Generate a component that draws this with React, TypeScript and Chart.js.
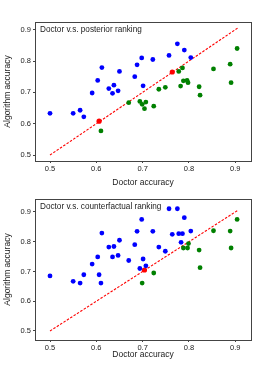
import React, { useEffect, useRef } from "react";
import { Chart, registerables } from "chart.js";

Chart.register(...registerables);

const tickValues = [0.5, 0.6, 0.7, 0.8, 0.9];

// Top panel: Doctor v.s. posterior ranking
const topBlueX = [0.5, 0.55, 0.565, 0.573, 0.591, 0.603, 0.612, 0.627, 0.635, 0.638, 0.647, 0.65, 0.683, 0.688, 0.698, 0.701, 0.722, 0.757, 0.775, 0.79, 0.804];
const topBlueY = [0.633, 0.633, 0.643, 0.622, 0.698, 0.738, 0.779, 0.712, 0.697, 0.723, 0.705, 0.767, 0.75, 0.788, 0.81, 0.721, 0.805, 0.818, 0.855, 0.835, 0.811];
const topGreenX = [0.61, 0.67, 0.694, 0.699, 0.704, 0.707, 0.724, 0.735, 0.749, 0.778, 0.786, 0.782, 0.788, 0.796, 0.798, 0.822, 0.824, 0.853, 0.889, 0.891, 0.904];
const topGreenY = [0.577, 0.667, 0.671, 0.662, 0.648, 0.669, 0.656, 0.71, 0.716, 0.767, 0.778, 0.72, 0.737, 0.738, 0.731, 0.718, 0.691, 0.775, 0.79, 0.731, 0.84];
const topRedX = [0.606, 0.764];
const topRedY = [0.608, 0.765];

// Bottom panel: Doctor v.s. counterfactual ranking
const botBlueX = [0.5, 0.55, 0.565, 0.573, 0.591, 0.603, 0.612, 0.606, 0.61, 0.627, 0.635, 0.638, 0.647, 0.65, 0.67, 0.683, 0.688, 0.698, 0.694, 0.701, 0.707, 0.722, 0.735, 0.749, 0.757, 0.764, 0.775, 0.778, 0.783, 0.786, 0.79, 0.804];
const botBlueY = [0.685, 0.667, 0.661, 0.689, 0.725, 0.749, 0.829, 0.689, 0.661, 0.782, 0.749, 0.784, 0.754, 0.805, 0.737, 0.79, 0.835, 0.875, 0.71, 0.742, 0.719, 0.835, 0.782, 0.768, 0.911, 0.825, 0.911, 0.827, 0.798, 0.827, 0.881, 0.836];
const botGreenX = [0.699, 0.724, 0.788, 0.797, 0.799, 0.822, 0.824, 0.853, 0.889, 0.891, 0.904];
const botGreenY = [0.661, 0.695, 0.779, 0.779, 0.794, 0.772, 0.713, 0.837, 0.836, 0.779, 0.875];
const botRedX = [0.704];
const botRedY = [0.705];

const diagX = [0.5, 0.905];

const FONT = "'Liberation Sans', Arial, sans-serif";
const FRAME = "#444";

const pts = (xs: number[], ys: number[]) => xs.map((x, i) => ({ x, y: ys[i] }));

type PanelProps = {
  title: string;
  blue: { x: number; y: number }[];
  green: { x: number; y: number }[];
  red: { x: number; y: number }[];
  yMin: number;
  yMax: number;
  top: number;
  height: number;
  padTop: number;
  padBottom: number;
  xAxisH: number;
};

function Panel(p: PanelProps) {
  const ref = useRef<HTMLCanvasElement | null>(null);
  useEffect(() => {
    if (!ref.current) return;
    const framePlugin = {
      id: "frame",
      afterDraw(chart: any) {
        const { ctx, chartArea } = chart;
        ctx.save();
        ctx.strokeStyle = FRAME;
        ctx.lineWidth = 1;
        ctx.strokeRect(
          Math.round(chartArea.left) + 0.5,
          Math.round(chartArea.top) + 0.5,
          Math.round(chartArea.right - chartArea.left),
          Math.round(chartArea.bottom - chartArea.top)
        );
        ctx.fillStyle = "#222";
        ctx.font = `8.2px ${FONT}`;
        ctx.textBaseline = "middle";
        ctx.textAlign = "left";
        ctx.fillText(p.title, chartArea.left + 5, chartArea.top + 8);
        ctx.restore();
      },
    };
    const chart = new Chart(ref.current, {
      type: "scatter",
      data: {
        datasets: [
          {
            data: p.blue,
            backgroundColor: "#0000ff",
            borderWidth: 0,
            pointRadius: 2.4,
          },
          {
            data: p.green,
            backgroundColor: "#008000",
            borderWidth: 0,
            pointRadius: 2.4,
          },
          {
            type: "line",
            data: pts(diagX, diagX),
            borderColor: "#ff0000",
            borderWidth: 1.1,
            borderDash: [2.5, 1.5],
            pointRadius: 0,
            showLine: true,
            fill: false,
          } as any,
          {
            data: p.red,
            backgroundColor: "#ff0000",
            borderWidth: 0,
            pointRadius: 2.6,
          },
        ],
      },
      options: {
        animation: false,
        responsive: false,
        maintainAspectRatio: false,
        layout: { padding: { left: 0, right: 28, top: p.padTop, bottom: p.padBottom } },
        plugins: { legend: { display: false }, tooltip: { enabled: false } },
        scales: {
          x: {
            type: "linear",
            min: 0.4676,
            max: 0.934,
            afterBuildTicks: (s: any) => {
              s.ticks = tickValues.map((v) => ({ value: v }));
            },
            afterFit: (s: any) => {
              s.height = p.xAxisH;
            },
            grid: { drawOnChartArea: false, drawTicks: true, tickLength: 2, color: FRAME },
            border: { display: false },
            ticks: {
              padding: 1,
              color: "#222",
              font: { family: FONT, size: 7.5 },
              callback: (v: any) => Number(v).toFixed(1),
            },
            title: {
              display: true,
              text: "Doctor accuracy",
              color: "#222",
              font: { family: FONT, size: 8.5 },
              padding: { top: 0, bottom: 0 },
            },
          },
          y: {
            type: "linear",
            min: p.yMin,
            max: p.yMax,
            afterBuildTicks: (s: any) => {
              s.ticks = tickValues.map((v) => ({ value: v }));
            },
            afterFit: (s: any) => {
              s.width = 35;
            },
            grid: { drawOnChartArea: false, drawTicks: true, tickLength: 2, color: FRAME },
            border: { display: false },
            ticks: {
              padding: 2,
              color: "#222",
              font: { family: FONT, size: 7.5 },
              callback: (v: any) => Number(v).toFixed(1),
            },
            title: {
              display: true,
              text: "Algorithm accuracy",
              color: "#222",
              font: { family: FONT, size: 8.5 },
              padding: { top: 3, bottom: 0 },
            },
          },
        },
      },
      plugins: [framePlugin],
    } as any);
    return () => chart.destroy();
  }, []);
  return (
    <canvas
      ref={ref}
      width={279}
      height={p.height}
      style={{ position: "absolute", left: 0, top: p.top, width: 279, height: p.height }}
    />
  );
}

export default function App() {
  return (
    <div style={{ position: "absolute", left: 0, top: 0, width: 279, height: 365, background: "#fff" }}>
      <Panel
        title="Doctor v.s. posterior ranking"
        blue={pts(topBlueX, topBlueY)}
        green={pts(topGreenX, topGreenY)}
        red={pts(topRedX, topRedY)}
        yMin={0.481}
        yMax={0.9246}
        top={0}
        height={190}
        padTop={22}
        padBottom={2}
        xAxisH={27}
      />
      <Panel
        title="Doctor v.s. counterfactual ranking"
        blue={pts(botBlueX, botBlueY)}
        green={pts(botGreenX, botGreenY)}
        red={pts(botRedX, botRedY)}
        yMin={0.4697}
        yMax={0.9437}
        top={190}
        height={175}
        padTop={9}
        padBottom={5}
        xAxisH={20}
      />
    </div>
  );
}
